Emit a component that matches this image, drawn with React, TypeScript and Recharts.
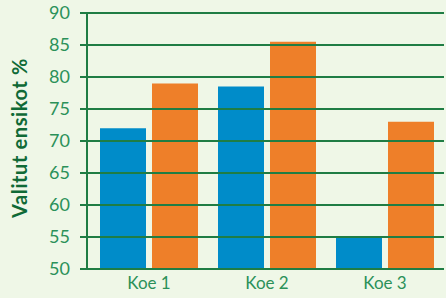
import { BarChart, Bar, XAxis, YAxis, ReferenceLine } from "recharts";

const categories = ["Koe 1", "Koe 2", "Koe 3"];
const blueValues = [72, 78.5, 55];
const orangeValues = [79, 85.5, 73];
const yTicks = [50, 55, 60, 65, 70, 75, 80, 85, 90];

const data = categories.map((name, i) => ({
  name,
  blue: blueValues[i],
  orange: orangeValues[i],
}));

const GREEN_LINE = "#1f7d44";
const GREEN_TEXT = "#2b9159";

export default function App() {
  return (
    <div
      style={{
        position: "absolute",
        left: 0,
        top: 0,
        width: 446,
        height: 298,
        background: "#eff7e7",
      }}
    >
      <BarChart
        width={446}
        height={298}
        data={data}
        margin={{ top: 13, right: 2, bottom: 0, left: 0 }}
        barGap={6}
        barSize={46}
      >
        <XAxis
          dataKey="name"
          height={29}
          padding={{ left: 3, right: 0 }}
          axisLine={false}
          tickLine={false}
          tickSize={0}
          tickMargin={8}
          tick={{ fill: GREEN_TEXT, fontSize: 17, fontFamily: "Lato" }}
        />
        <YAxis
          domain={[50, 90]}
          ticks={yTicks}
          width={87}
          interval={0}
          axisLine={{ stroke: GREEN_LINE, strokeWidth: 2 }}
          tickLine={{ stroke: GREEN_LINE, strokeWidth: 2 }}
          tickSize={7}
          tickMargin={10}
          tick={{ fill: GREEN_TEXT, fontSize: 18, fontFamily: "Lato" }}
          label={{
            content: () => (
              <text
                x={27}
                y={138}
                transform="rotate(-90, 27, 138)"
                textAnchor="middle"
                fill="#0f6a36"
                fontSize={20}
                fontWeight="bold"
                fontFamily="Lato"
                letterSpacing={0.6}
              >
                Valitut ensikot %
              </text>
            ),
          }}
        />
        <Bar dataKey="blue" fill="#008cc9" isAnimationActive={false} />
        <Bar dataKey="orange" fill="#ee7f29" isAnimationActive={false} />
        {yTicks.map((t) => (
          <ReferenceLine
            key={t}
            y={t}
            stroke={GREEN_LINE}
            strokeWidth={2}
            ifOverflow="visible"
          />
        ))}
      </BarChart>
    </div>
  );
}
